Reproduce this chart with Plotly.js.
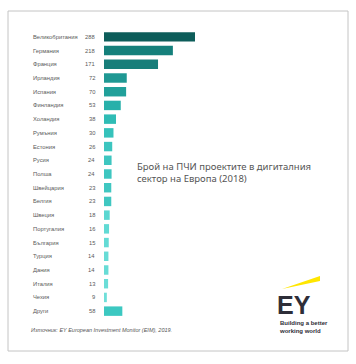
<!DOCTYPE html>
<html>
<head>
<meta charset="utf-8">
<script src="https://cdn.plot.ly/plotly-3.0.1.min.js"></script>
<style>html,body{margin:0;padding:0;background:#fff;}#chart{width:356px;height:364px;}</style>
</head>
<body>
<div id="chart"></div>
<script>
const countries = ["Великобритания","Германия","Франция","Ирландия","Испания","Финландия","Холандия","Румъния","Естония","Русия","Полша","Швейцария","Белгия","Швеция","Португалия","България","Турция","Дания","Италия","Чехия","Други"];
const projects = [288,218,171,72,70,53,38,30,26,24,24,23,23,18,16,15,14,14,13,9,58];
const titleText = "Брой на ПЧИ проектите в дигиталния<br>сектор на Европа (2018)";
const sourceText = "Източник: EY European Investment Monitor (EIM), 2019.";

const barColors = ["#0d5d5a","#15807b","#187e7a","#1f9893","#21a09a","#28b0aa","#2fbcb5","#36c2bb","#3cc5bf","#3ec6c0","#3ec6c0","#40c7c1","#40c7c1","#5ad7d1","#61dad4","#64dbd5","#67dcd6","#67dcd6","#6addd7","#70dfd9","#3cc8c1"];

const PL = 104, PR = 304, PT = 30, PB = 318;
const px = x => (x - PL) / (PR - PL);
const py = y => (PB - y) / (PB - PT);

const labelFont = {family:'Liberation Sans, Arial, sans-serif', size:5.8, color:'#5a5a5a'};
const annotations = [];
countries.forEach((c, i) => {
  annotations.push({xref:'paper', yref:'y', x: px(31), y: c, text: c, showarrow:false, xanchor:'left', yanchor:'middle', font:labelFont});
  annotations.push({xref:'paper', yref:'y', x: px(97), y: c, text: String(projects[i]), showarrow:false, xanchor:'right', yanchor:'middle', font:labelFont});
});
annotations.push({xref:'paper', yref:'paper', x: px(135), y: py(172), text: titleText, showarrow:false, xanchor:'left', yanchor:'middle', align:'left',
  font:{family:'Noto Sans, sans-serif', size:9.5, color:'#555'}});
annotations.push({xref:'paper', yref:'paper', x: px(29), y: py(330), text: '<i>' + sourceText + '</i>', showarrow:false, xanchor:'left', yanchor:'middle',
  font:{family:'Liberation Sans, Arial, sans-serif', size:5.5, color:'#555'}});
annotations.push({xref:'paper', yref:'paper', x: px(276), y: py(305), text: '<b>EY</b>', showarrow:false, xanchor:'left', yanchor:'middle', borderpad:0,
  font:{family:'Liberation Sans, Arial, sans-serif', size:25, color:'#2e2e38'}});
annotations.push({xref:'paper', yref:'paper', x: px(278), y: py(327), text: '<b>Building a better<br>working world</b>', showarrow:false, xanchor:'left', yanchor:'middle', align:'left', borderpad:0,
  font:{family:'Liberation Sans, Arial, sans-serif', size:6, color:'#2e2e38'}});

const shapes = [
  {type:'rect', xref:'paper', yref:'paper', x0: px(8), x1: px(348), y0: py(351), y1: py(11), line:{color:'#c4c4c4', width:1}, fillcolor:'rgba(0,0,0,0)', layer:'below'},
  {type:'path', xref:'paper', yref:'paper',
   path:`M ${px(282)} ${py(289)} L ${px(320)} ${py(276)} L ${px(320)} ${py(281)} Z`,
   fillcolor:'#ffe600', line:{width:0}}
];

const trace = {
  type:'bar', orientation:'h', x: projects, y: countries,
  marker:{color: barColors, line:{width:0}},
  hoverinfo:'none'
};

const layout = {
  width:356, height:364,
  margin:{l:PL, r:356-PR, t:PT, b:364-PB, pad:0},
  paper_bgcolor:'#fff', plot_bgcolor:'#fff',
  showlegend:false,
  bargap:0.31,
  xaxis:{range:[0, 288*(PR-PL)/91], visible:false, fixedrange:true},
  yaxis:{autorange:'reversed', visible:false, fixedrange:true, categoryorder:'array', categoryarray:countries},
  annotations, shapes
};

Plotly.newPlot('chart', [trace], layout, {staticPlot:true, displayModeBar:false});
</script>
</body>
</html>
